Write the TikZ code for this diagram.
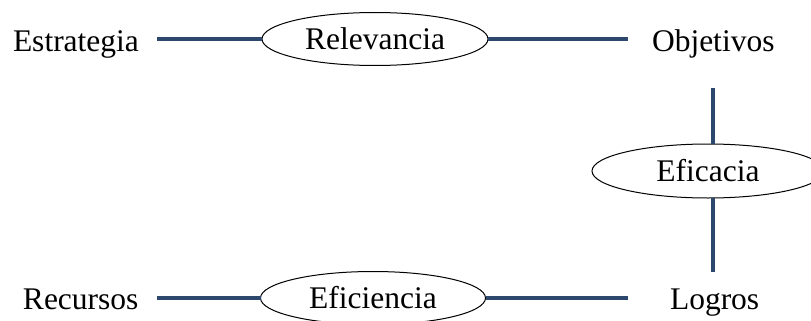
\documentclass[tikz,border=0pt]{standalone}
\usepackage{fontspec}
\setmainfont{Liberation Serif}
\usetikzlibrary{shapes.geometric}
\definecolor{linkblue}{RGB}{44,72,108}
\begin{document}
\begin{tikzpicture}[x=1pt,y=-1pt,
  every node/.style={inner sep=0pt,outer sep=0pt,font=\fontsize{31.5}{38}\selectfont},
  label/.style={anchor=base west},
  oval/.style={ellipse,draw=black,line width=1pt},
  link/.style={draw=linkblue,line width=4pt}]
  \useasboundingbox (0,0) rectangle (811,321);

  % outer concepts
  \node[label] (estr) at (13,52)  {Estrategia};
  \node[label] (obj)  at (652,52) {Objetivos};
  \node[label] (rec)  at (23,309) {Recursos};
  \node[label] (log)  at (670,309) {Logros};

  % the three measures
  \node[oval,minimum width=226pt,minimum height=53pt] (rel) at (375,39)  {Relevancia};
  \node[oval,minimum width=225pt,minimum height=53pt] (efi) at (373,298) {Eficiencia};
  \node[oval,minimum width=232pt,minimum height=54pt] (eff) at (708,171) {Eficacia};

  % links between concepts and measures
  \draw[link] ([xshift=18pt]estr.east |- rel.west) -- (rel.west);
  \draw[link] (rel.east) -- ([xshift=-24pt]obj.west |- rel.east);
  \draw[link] ([xshift=18.5pt]rec.east |- efi.west) -- (efi.west);
  \draw[link] (efi.east) -- ([xshift=-42pt]log.west |- efi.east);
  \draw[link] ([yshift=-29pt]obj.south) -- (obj.south |- eff.north);
  \draw[link] (obj.south |- eff.south) -- ([yshift=16pt]obj.south |- log.north);
\end{tikzpicture}
\end{document}
